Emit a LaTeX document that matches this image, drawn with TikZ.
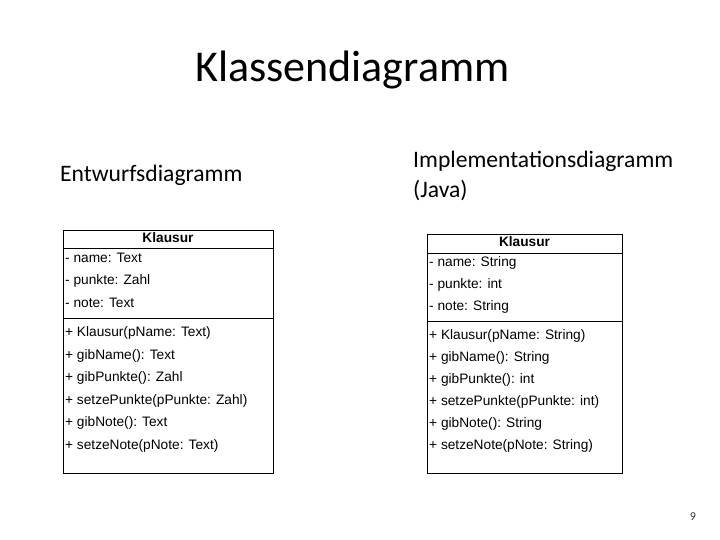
\documentclass[tikz,border=0pt]{standalone}
\usepackage{fontspec}
\setmainfont{Carlito}
\newfontfamily\umlfont{Liberation Sans}
\begin{document}
\begin{tikzpicture}[x=1pt,y=-1pt,
  title/.style={font=\fontsize{44}{52}\selectfont, anchor=base west, inner sep=0pt},
  sub/.style={font=\fontsize{23.6}{28.8}\selectfont, anchor=base west, inner sep=0pt},
  classbox/.style={draw=black, line width=1pt, fill=white, inner sep=0pt, anchor=north west},
  sep/.style={draw=black, line width=1pt},
  row/.style={font=\umlfont\fontsize{13.7}{16}\selectfont, anchor=base west, inner sep=0pt},
  head/.style={font=\umlfont\bfseries\fontsize{13.7}{16}\selectfont, anchor=base, inner sep=0pt},
  pagenum/.style={font=\fontsize{12}{14}\selectfont, text=black!80, anchor=base, inner sep=0pt}
]
\useasboundingbox (0,0) rectangle (720,540);
\fill[white] (0,0) rectangle (720,540);

\node[title] (t) at (195,82) {Klassendiagramm};
\node[sub] (e) at (60,182) {Entwurfsdiagramm};
\node[sub] (i1) at (413,168) {Implementationsdiagramm};
\node[sub] (i2) at (413,197) {(Java)};

% left class
\node[classbox, minimum width=210pt, minimum height=243pt] (L) at (63,230) {};
\coordinate (Lh) at (63,248);
\coordinate (Ld) at (63,318);
\draw[sep] (Lh) -- ++(210,0);
\draw[sep] (Ld) -- ++(210,0);
\node[head] (Lt) at (168,242.5) {Klausur};
\node[row] (La1) at (65,262) {- name: Text};
\node[row] (La2) at (65,284.5) {- punkte: Zahl};
\node[row] (La3) at (65,307) {- note: Text};
\node[row] (Lm1) at (65,336.5) {+ Klausur(pName: Text)};
\node[row] (Lm2) at (65,359) {+ gibName(): Text};
\node[row] (Lm3) at (65,381.5) {+ gibPunkte(): Zahl};
\node[row] (Lm4) at (65,404) {+ setzePunkte(pPunkte: Zahl)};
\node[row] (Lm5) at (65,426.5) {+ gibNote(): Text};
\node[row] (Lm6) at (65,449) {+ setzeNote(pNote: Text)};

% right class
\node[classbox, minimum width=195pt, minimum height=239pt] (R) at (427,234) {};
\coordinate (Rh) at (427,253);
\coordinate (Rd) at (427,321);
\draw[sep] (Rh) -- ++(195,0);
\draw[sep] (Rd) -- ++(195,0);
\node[head] (Rt) at (524.5,246) {Klausur};
\node[row] (Ra1) at (429,266) {- name: String};
\node[row] (Ra2) at (429,288) {- punkte: int};
\node[row] (Ra3) at (429,310) {- note: String};
\node[row] (Rm1) at (429,339) {+ Klausur(pName: String)};
\node[row] (Rm2) at (429,361) {+ gibName(): String};
\node[row] (Rm3) at (429,383) {+ gibPunkte(): int};
\node[row] (Rm4) at (429,405) {+ setzePunkte(pPunkte: int)};
\node[row] (Rm5) at (429,427) {+ gibNote(): String};
\node[row] (Rm6) at (429,449) {+ setzeNote(pNote: String)};

\node[pagenum] (p) at (693,520) {9};
\end{tikzpicture}
\end{document}
